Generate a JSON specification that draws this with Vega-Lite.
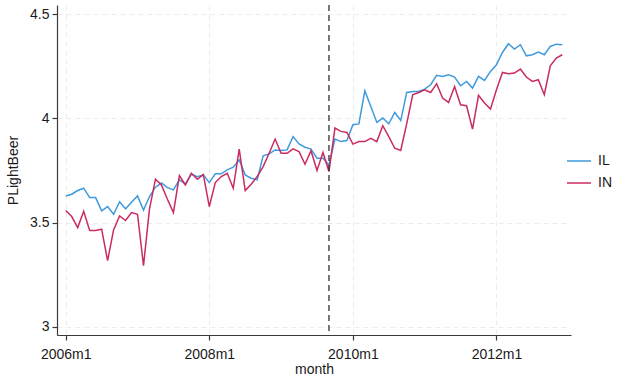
{
  "$schema": "https://vega.github.io/schema/vega-lite/v6.json",
  "width": 514,
  "height": 330,
  "autosize": "none",
  "padding": {"left": 57, "top": 5, "right": 67, "bottom": 46},
  "background": "white",
  "config": {
    "view": {"stroke": null},
    "font": "Liberation Sans",
    "axis": {
      "domainColor": "#3a3a3a",
      "domainWidth": 1.2,
      "tickColor": "#3a3a3a",
      "tickWidth": 1.2,
      "tickSize": 5,
      "labelFontSize": 14,
      "labelColor": "#1a1a1a",
      "titleFontSize": 14,
      "titleFontWeight": "normal",
      "titleColor": "#1a1a1a",
      "grid": true,
      "gridColor": "#ececec",
      "gridDash": [5, 4],
      "gridWidth": 1
    }
  },
  "data": {
    "values": [
      {"month": 552, "IL": 3.628, "IN": 3.558},
      {"month": 553, "IL": 3.636, "IN": 3.529},
      {"month": 554, "IL": 3.654, "IN": 3.476},
      {"month": 555, "IL": 3.665, "IN": 3.554},
      {"month": 556, "IL": 3.620, "IN": 3.462},
      {"month": 557, "IL": 3.620, "IN": 3.462},
      {"month": 558, "IL": 3.556, "IN": 3.468},
      {"month": 559, "IL": 3.577, "IN": 3.317},
      {"month": 560, "IL": 3.540, "IN": 3.465},
      {"month": 561, "IL": 3.600, "IN": 3.532},
      {"month": 562, "IL": 3.566, "IN": 3.510},
      {"month": 563, "IL": 3.598, "IN": 3.548},
      {"month": 564, "IL": 3.628, "IN": 3.540},
      {"month": 565, "IL": 3.560, "IN": 3.293},
      {"month": 566, "IL": 3.625, "IN": 3.566},
      {"month": 567, "IL": 3.670, "IN": 3.708},
      {"month": 568, "IL": 3.690, "IN": 3.681},
      {"month": 569, "IL": 3.668, "IN": 3.612},
      {"month": 570, "IL": 3.657, "IN": 3.548},
      {"month": 571, "IL": 3.705, "IN": 3.726},
      {"month": 572, "IL": 3.686, "IN": 3.681},
      {"month": 573, "IL": 3.732, "IN": 3.737},
      {"month": 574, "IL": 3.720, "IN": 3.708},
      {"month": 575, "IL": 3.729, "IN": 3.730},
      {"month": 576, "IL": 3.692, "IN": 3.577},
      {"month": 577, "IL": 3.734, "IN": 3.692},
      {"month": 578, "IL": 3.734, "IN": 3.721},
      {"month": 579, "IL": 3.753, "IN": 3.737},
      {"month": 580, "IL": 3.766, "IN": 3.665},
      {"month": 581, "IL": 3.801, "IN": 3.853},
      {"month": 582, "IL": 3.729, "IN": 3.654},
      {"month": 583, "IL": 3.713, "IN": 3.684},
      {"month": 584, "IL": 3.705, "IN": 3.721},
      {"month": 585, "IL": 3.821, "IN": 3.769},
      {"month": 586, "IL": 3.830, "IN": 3.833},
      {"month": 587, "IL": 3.849, "IN": 3.901},
      {"month": 588, "IL": 3.846, "IN": 3.833},
      {"month": 589, "IL": 3.849, "IN": 3.833},
      {"month": 590, "IL": 3.913, "IN": 3.854},
      {"month": 591, "IL": 3.878, "IN": 3.841},
      {"month": 592, "IL": 3.862, "IN": 3.780},
      {"month": 593, "IL": 3.853, "IN": 3.845},
      {"month": 594, "IL": 3.809, "IN": 3.750},
      {"month": 595, "IL": 3.809, "IN": 3.837},
      {"month": 596, "IL": 3.776, "IN": 3.745},
      {"month": 597, "IL": 3.901, "IN": 3.954},
      {"month": 598, "IL": 3.889, "IN": 3.938},
      {"month": 599, "IL": 3.894, "IN": 3.933},
      {"month": 600, "IL": 3.970, "IN": 3.877},
      {"month": 601, "IL": 3.974, "IN": 3.889},
      {"month": 602, "IL": 4.133, "IN": 3.889},
      {"month": 603, "IL": 4.058, "IN": 3.905},
      {"month": 604, "IL": 3.981, "IN": 3.889},
      {"month": 605, "IL": 4.002, "IN": 3.965},
      {"month": 606, "IL": 3.974, "IN": 3.913},
      {"month": 607, "IL": 4.029, "IN": 3.857},
      {"month": 608, "IL": 3.990, "IN": 3.846},
      {"month": 609, "IL": 4.125, "IN": 3.975},
      {"month": 610, "IL": 4.130, "IN": 4.114},
      {"month": 611, "IL": 4.130, "IN": 4.125},
      {"month": 612, "IL": 4.141, "IN": 4.138},
      {"month": 613, "IL": 4.162, "IN": 4.125},
      {"month": 614, "IL": 4.207, "IN": 4.167},
      {"month": 615, "IL": 4.202, "IN": 4.098},
      {"month": 616, "IL": 4.210, "IN": 4.077},
      {"month": 617, "IL": 4.199, "IN": 4.154},
      {"month": 618, "IL": 4.157, "IN": 4.066},
      {"month": 619, "IL": 4.178, "IN": 4.061},
      {"month": 620, "IL": 4.146, "IN": 3.949},
      {"month": 621, "IL": 4.202, "IN": 4.111},
      {"month": 622, "IL": 4.183, "IN": 4.074},
      {"month": 623, "IL": 4.226, "IN": 4.045},
      {"month": 624, "IL": 4.258, "IN": 4.138},
      {"month": 625, "IL": 4.317, "IN": 4.221},
      {"month": 626, "IL": 4.359, "IN": 4.215},
      {"month": 627, "IL": 4.333, "IN": 4.218},
      {"month": 628, "IL": 4.354, "IN": 4.237},
      {"month": 629, "IL": 4.301, "IN": 4.199},
      {"month": 630, "IL": 4.306, "IN": 4.178},
      {"month": 631, "IL": 4.319, "IN": 4.186},
      {"month": 632, "IL": 4.306, "IN": 4.114},
      {"month": 633, "IL": 4.346, "IN": 4.253},
      {"month": 634, "IL": 4.357, "IN": 4.290},
      {"month": 635, "IL": 4.354, "IN": 4.306}
    ]
  },
  "layer": [
    {
      "transform": [{"fold": ["IL", "IN"], "as": ["state", "PLightBeer"]}],
      "mark": {"type": "line", "strokeWidth": 1.5},
      "encoding": {
        "x": {
          "field": "month",
          "type": "quantitative",
          "scale": {"domain": [550.54, 636.46], "nice": false, "zero": false},
          "axis": {
            "values": [552, 576, 600, 624],
            "labelExpr": "(1960 + floor(datum.value / 12)) + 'm' + (datum.value % 12 + 1)",
            "labelPadding": 7,
            "title": "month",
            "titlePadding": 1
          }
        },
        "y": {
          "field": "PLightBeer",
          "type": "quantitative",
          "scale": {"domain": [2.96, 4.545], "nice": false, "zero": false},
          "axis": {
            "values": [3, 3.5, 4, 4.5],
            "labelExpr": "datum.value + ''",
            "labelPadding": 3,
            "title": "PLightBeer",
            "titlePadding": 9
          }
        },
        "color": {
          "field": "state",
          "type": "nominal",
          "scale": {"domain": ["IL", "IN"], "range": ["#3f9ade", "#c92b63"]},
          "legend": {
            "title": null,
            "orient": "none",
            "legendX": 509,
            "legendY": 146,
            "symbolType": "stroke",
            "symbolSize": 576,
            "symbolStrokeWidth": 1.5,
            "clipHeight": 20,
            "labelFontSize": 14,
            "labelColor": "#1a1a1a",
            "labelOffset": 6
          }
        }
      }
    },
    {
      "data": {"values": [{"month": 596}]},
      "mark": {"type": "rule", "color": "#333333", "strokeWidth": 1.3, "strokeDash": [6, 4]},
      "encoding": {
        "x": {"field": "month", "type": "quantitative"}
      }
    }
  ]
}
